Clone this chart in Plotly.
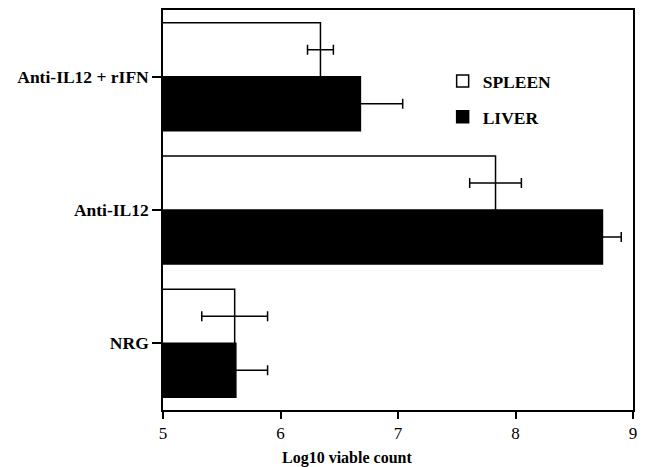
import plotly.graph_objects as go

categories = ["NRG", "Anti-IL12", "Anti-IL12 + rIFN"]
spleen = [5.61, 7.83, 6.34]
spleen_err = [0.28, 0.22, 0.11]
liver = [5.62, 8.74, 6.68]
liver_err = [0.27, 0.16, 0.36]
x_ticks = [5, 6, 7, 8, 9]

FONT = "Liberation Serif"

fig = go.Figure()
fig.add_trace(go.Bar(
    y=categories, x=liver, orientation="h", name="<b>LIVER</b>",
    legendgroup="liver", legendrank=2,
    marker=dict(color="black", line=dict(color="black", width=1.5)),
    error_x=dict(type="data", array=liver_err, visible=True, color="black",
                 thickness=1.5, width=5),
))
fig.add_trace(go.Bar(
    y=categories, x=spleen, orientation="h", name="<b>SPLEEN</b>",
    legendgroup="spleen", legendrank=1,
    marker=dict(color="white", line=dict(color="black", width=1.5)),
    error_x=dict(type="data", array=spleen_err, visible=True, color="black",
                 thickness=1.5, width=5),
))

fig.update_layout(
    width=648, height=467,
    margin=dict(l=163, r=15, t=8, b=57),
    paper_bgcolor="white", plot_bgcolor="white",
    barmode="group", bargap=0.19, bargroupgap=0,
    font=dict(family=FONT, color="black", size=16),
    showlegend=True,
    legend=dict(
        x=0.595, y=0.867, xanchor="left", yanchor="top",
        traceorder="grouped", tracegroupgap=10,
        font=dict(family=FONT, size=17.5, color="black"),
        bgcolor="rgba(0,0,0,0)",
    ),
    xaxis=dict(
        range=[5, 9], tickvals=x_ticks, ticktext=[str(t) for t in x_ticks],
        showgrid=False, zeroline=False,
        showline=True, linecolor="black", linewidth=1.5, mirror=True,
        ticks="outside", ticklen=7, tickwidth=1.5, tickcolor="black",
        tickfont=dict(family=FONT, size=17),
    ),
    yaxis=dict(
        type="category", categoryorder="array", categoryarray=categories,
        range=[-0.5, 2.5],
        showgrid=False, zeroline=False,
        showline=True, linecolor="black", linewidth=1.5, mirror=True,
        ticks="outside", ticklen=9, tickwidth=1.5, tickcolor="black",
        tickfont=dict(family=FONT, size=17.5, weight="bold"),
    ),
)

fig.add_annotation(
    text="<b>Log10 viable count</b>", xref="paper", yref="paper",
    x=(347 - 163) / 470, y=-0.12, xanchor="center", yanchor="middle",
    showarrow=False, font=dict(family=FONT, size=16, color="black"),
)

fig.write_html("out.html")
